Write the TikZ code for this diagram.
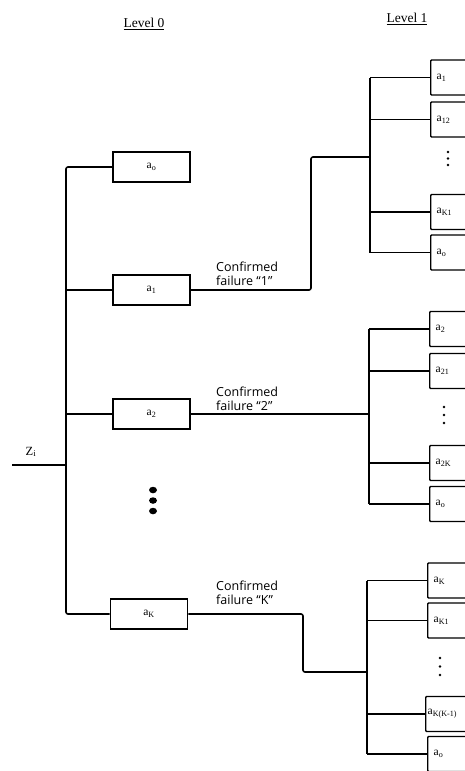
\documentclass[tikz,border=0pt]{standalone}
\usepackage{fontspec}
\usetikzlibrary{shapes.geometric}
\setmainfont{Liberation Serif}
\newfontfamily\labfont{Open Sans}
\newcommand{\sbs}[1]{\textsubscript{#1}}
\begin{document}
\begin{tikzpicture}[x=1pt,y=-1pt,
  wire/.style={line width=1.6pt, rounded corners=2pt},
  busbar/.style={line width=2.6pt},
  boxzero/.style={draw, line width=1.7pt, minimum width=77pt, minimum height=30pt, inner sep=0pt, font=\fontsize{11.5}{13}\selectfont},
  boxone/.style={draw, line width=1.4pt, rounded corners=1pt, minimum width=48pt, minimum height=35pt, inner sep=0pt, anchor=west, text width=36pt, align=left, font=\fontsize{11.5}{13}\selectfont},
  lab/.style={font=\labfont\fontsize{12.5}{14}\selectfont, align=left, anchor=south west, inner sep=0pt},
  lvl/.style={font=\fontsize{13.5}{15}\selectfont, inner sep=1pt},
  dotsm/.style={fill=black, circle, inner sep=0pt, minimum size=2.8pt},
  dotbg/.style={fill=black, ellipse, inner sep=0pt, minimum width=8pt, minimum height=6.5pt}]
\useasboundingbox (0,0) rectangle (465,771);

% level titles
\node[lvl] (lv0) at (144,24) {\underline{Level 0}};
\node[lvl] (lv1) at (407,19) {\underline{Level 1}};

% level 0 boxes
\node[boxzero] (L0o) at (151.5,167) {a\sbs{o}};
\node[boxzero] (L01) at (151.5,290) {a\sbs{1}};
\node[boxzero] (L02) at (151.5,414) {a\sbs{2}};
\node[boxzero] (L0K) at (149,614) {a\sbs{K}};

% main bus
\coordinate (jT) at (66,167);
\coordinate (jB) at (66,614);
\coordinate (zin) at (12,465);
\draw[wire] (L0o.west) -- (jT) -- (jB) -- (L0K.west);
\draw[wire] (L01.west) -- (L01.west -| jT);
\draw[wire] (L02.west) -- (L02.west -| jT);
\draw[wire] (zin) -- (zin -| jT);
\node[font=\fontsize{12.5}{13}\selectfont, inner sep=0pt] (zl) at (31,452) {Z\sbs{i}};

% big dots level 0
\node[dotbg] (d1) at (153,490) {};
\node[dotbg] (d2) at (153,500.5) {};
\node[dotbg] (d3) at (153,511) {};

% ---------- group 1 ----------
\node[boxone] (g1a) at (430,77.5) {a\sbs{1}};
\node[boxone] (g1b) at (430,119.5) {a\sbs{12}};
\node[boxone] (g1c) at (430,212) {a\sbs{K1}};
\node[boxone] (g1d) at (430,252.5) {a\sbs{o}};
\coordinate (b1t) at (370,77.5);
\coordinate (b1b) at (370,252.5);
\coordinate (b1in) at (370,157);
\coordinate (k1) at (311,290);
\draw[busbar] (b1t) -- (b1b);
\draw[wire] (g1a.west) -- (g1a.west -| b1t);
\draw[wire] (g1b.west) -- (g1b.west -| b1t);
\draw[wire] (g1c.west) -- (g1c.west -| b1t);
\draw[wire] (g1d.west) -- (g1d.west -| b1t);
\draw[wire] (L01.east) -- (k1) |- (b1in);
\node[dotsm] (e11) at (448,152) {};
\node[dotsm] (e12) at (448,158.5) {};
\node[dotsm] (e13) at (448,165) {};
\node[lab] (c1) at (216,286) {Confirmed\\failure “1”};

% ---------- group 2 ----------
\node[boxone] (g2a) at (429,329) {a\sbs{2}};
\node[boxone] (g2b) at (429,371) {a\sbs{21}};
\node[boxone] (g2c) at (429,463) {a\sbs{2K}};
\node[boxone] (g2d) at (429,504) {a\sbs{o}};
\coordinate (b2t) at (369,329);
\coordinate (b2b) at (369,504);
\draw[busbar] (b2t) -- (b2b);
\draw[wire] (g2a.west) -- (g2a.west -| b2t);
\draw[wire] (g2b.west) -- (g2b.west -| b2t);
\draw[wire] (g2c.west) -- (g2c.west -| b2t);
\draw[wire] (g2d.west) -- (g2d.west -| b2t);
\draw[wire] (L02.east) -- (L02.east -| b2t);
\node[dotsm] (e21) at (444,407) {};
\node[dotsm] (e22) at (444,415) {};
\node[dotsm] (e23) at (444,423) {};
\node[lab] (c2) at (216,411) {Confirmed\\failure “2”};

% ---------- group K ----------
\node[boxone] (gka) at (427,580.5) {a\sbs{K}};
\node[boxone] (gkb) at (427,620.5) {a\sbs{K1}};
\node[boxone, text width=42pt] (gkc) at (425,714) {\hspace*{-1pt}a\sbs{K(K-1)}};
\node[boxone] (gkd) at (427,754) {a\sbs{o}};
\coordinate (bkt) at (367,580.5);
\coordinate (bkb) at (367,754);
\coordinate (bkin) at (367,672);
\coordinate (kk) at (303,614);
\draw[busbar] (bkt) -- (bkb);
\draw[wire] (gka.west) -- (gka.west -| bkt);
\draw[wire] (gkb.west) -- (gkb.west -| bkt);
\draw[wire] (gkc.west) -- (gkc.west -| bkt);
\draw[wire] (gkd.west) -- (gkd.west -| bkt);
\draw[wire] (L0K.east) -- (kk) |- (bkin);
\node[dotsm] (ek1) at (440,658) {};
\node[dotsm] (ek2) at (440,666.5) {};
\node[dotsm] (ek3) at (440,675) {};
\node[lab] (ck) at (216,605) {Confirmed\\failure “K”};
\end{tikzpicture}
\end{document}
